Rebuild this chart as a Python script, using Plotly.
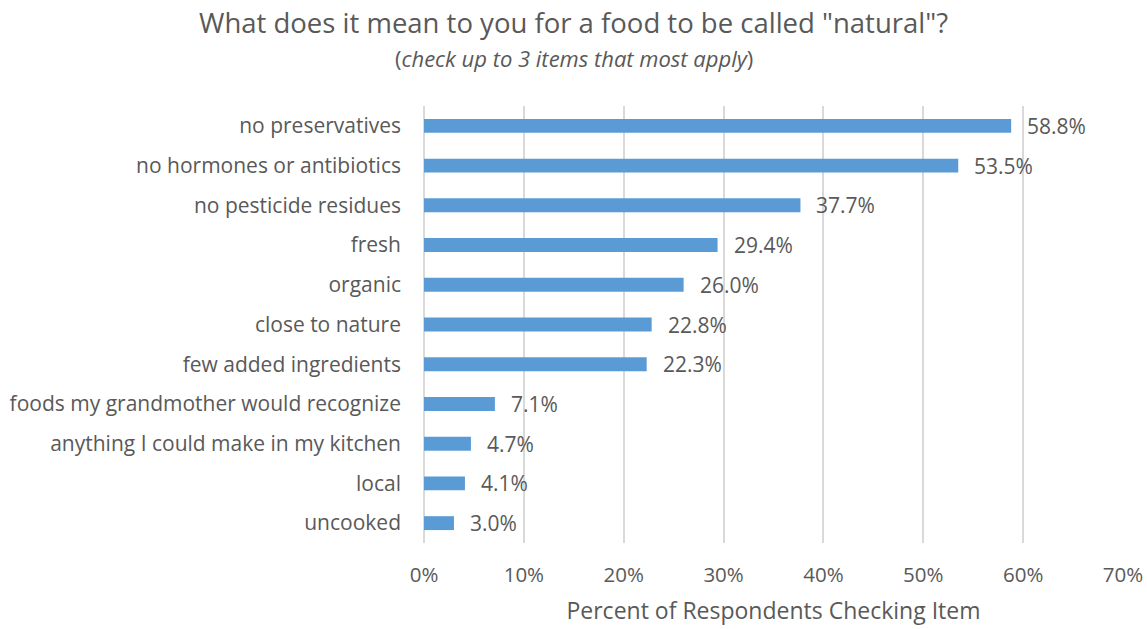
import plotly.graph_objects as go

categories = [
    "no preservatives",
    "no hormones or antibiotics",
    "no pesticide residues",
    "fresh",
    "organic",
    "close to nature",
    "few added ingredients",
    "foods my grandmother would recognize",
    "anything I could make in my kitchen",
    "local",
    "uncooked",
]
percent = [58.8, 53.5, 37.7, 29.4, 26.0, 22.8, 22.3, 7.1, 4.7, 4.1, 3.0]
x_ticks = [0, 10, 20, 30, 40, 50, 60, 70]

FONT = "Open Sans"
GREY = "#595959"
GRID = "#D9D9D9"

MARGIN_L, MARGIN_R = 424, 24
PLOT_W = 1147 - MARGIN_L - MARGIN_R
# horizontal paper coordinate of the page centre, for the centred headings
CENTER_X = (1147 / 2 - MARGIN_L) / PLOT_W

fig = go.Figure(
    go.Bar(
        x=[v / 100 for v in percent],
        y=categories,
        orientation="h",
        marker=dict(color="#5B9BD5", line=dict(width=0)),
        width=0.35,
        hoverinfo="skip",
    )
)

# value labels just past each bar end
for cat, v in zip(categories, percent):
    fig.add_annotation(
        x=v / 100, y=cat, xref="x", yref="y",
        text=f"{v:.1f}%", showarrow=False,
        xanchor="left", yanchor="middle", xshift=14,
        font=dict(family=FONT, size=21, color=GREY),
    )

# title and subtitle
fig.add_annotation(
    x=CENTER_X, y=1.192, xref="paper", yref="paper",
    text='What does it mean to you for a food to be called "natural"?',
    showarrow=False, xanchor="center", yanchor="middle",
    font=dict(family=FONT, size=27.5, color=GREY),
)
fig.add_annotation(
    x=CENTER_X, y=1.11, xref="paper", yref="paper",
    text="(<i>check up to 3 items that most apply</i>)",
    showarrow=False, xanchor="center", yanchor="middle",
    font=dict(family=FONT, size=22, color=GREY),
)

fig.update_layout(
    width=1147,
    height=629,
    paper_bgcolor="white",
    plot_bgcolor="white",
    margin=dict(l=MARGIN_L, r=MARGIN_R, t=106, b=86, autoexpand=False),
    font=dict(family=FONT, color=GREY),
    showlegend=False,
    xaxis=dict(
        range=[0, 0.7],
        tickvals=[t / 100 for t in x_ticks],
        ticktext=[f"{t}%" for t in x_ticks],
        showgrid=True,
        gridcolor=GRID,
        gridwidth=1.5,
        zeroline=True,
        zerolinecolor=GRID,
        zerolinewidth=1.5,
        showline=False,
        automargin=False,
        tickfont=dict(family=FONT, size=20.5, color=GREY),
        ticklabelstandoff=17,
        title=dict(
            text="Percent of Respondents Checking Item",
            font=dict(family=FONT, size=23, color=GREY),
            standoff=16,
        ),
        fixedrange=True,
    ),
    yaxis=dict(
        autorange="reversed",
        categoryorder="array",
        categoryarray=categories,
        showgrid=False,
        zeroline=False,
        showline=False,
        automargin=False,
        tickfont=dict(family=FONT, size=21, color=GREY),
        ticklabelstandoff=22,
        fixedrange=True,
    ),
)

fig.write_html("out.html")
